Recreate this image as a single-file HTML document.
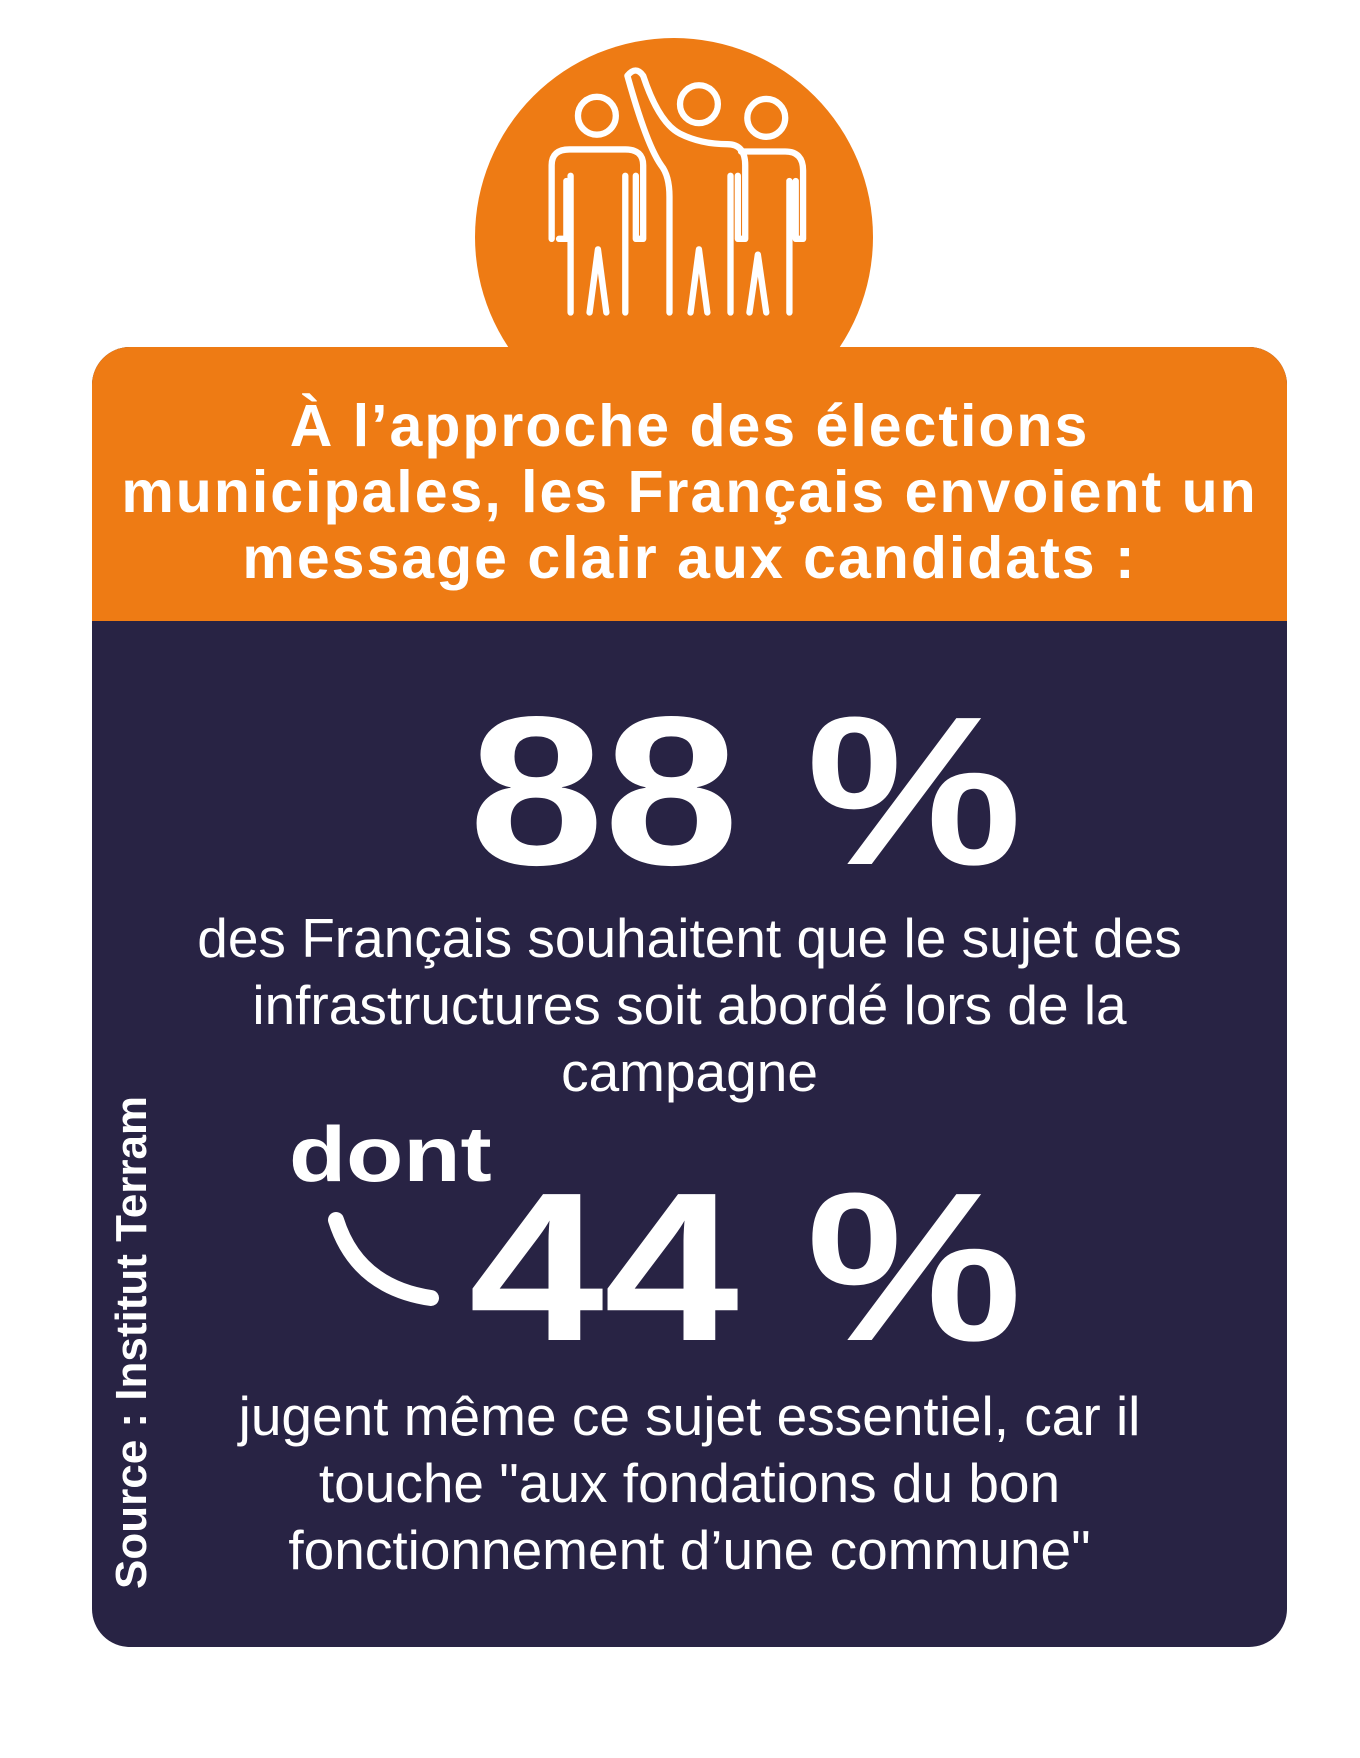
<!DOCTYPE html>
<html><head><meta charset="utf-8"><style>
body{margin:0;width:1360px;height:1758px;background:#fff;position:relative;overflow:hidden;font-family:"Liberation Sans",sans-serif}
.abs{position:absolute}
#circ{left:475px;top:38px;width:398px;height:398px;border-radius:50%;background:#ee7b14}
#card{left:92px;top:347px;width:1195px;height:1300px;border-radius:38px;background:#282344;overflow:hidden}
#head{left:0;top:0;width:1195px;height:274px;background:#ee7b14}
.t{color:#fff;text-align:center;width:1195px;left:0}
#title{top:46px;font-weight:bold;font-size:59px;line-height:66px;letter-spacing:2px}
.big{font-weight:bold;font-size:212px;line-height:1;transform:scaleX(1.145)}
.body{font-size:55px;line-height:67px}
</style></head><body>
<div id="circ" class="abs"></div>
<svg class="abs" style="left:543px;top:60px" width="274" height="263" viewBox="0 0 260 250" fill="none" stroke="#fff" stroke-width="6" stroke-linecap="round" stroke-linejoin="round">
<circle cx="51" cy="53" r="18"/><circle cx="148" cy="42" r="18"/><circle cx="212" cy="55" r="18"/>
<path d="M8 170 V100 Q8 85 25 85 H78 Q95 85 95 100 V170 H88 V110 M15 170 H22 V115 M26 240 V110 M78 240 V110 M44 240 L52 180 L60 240"/>
<path d="M80 15 Q88 5 95 15 Q110 60 130 70 Q150 80 175 80 Q192 80 192 100 V170 H185 V110 M112 100 Q120 110 120 130 V240 M178 240 V110 M140 240 L148 180 L156 240 M112 100 Q98 80 80 15"/>
<path d="M188 87 H230 Q247 87 247 105 V170 H240 V115 M234 240 V115 M196 240 L204 185 L212 240"/>
</svg>
<div id="card" class="abs">
<div id="head" class="abs"></div>
<div id="title" class="abs t">À l’approche des élections<br>municipales, les Français envoient un<br>message clair aux candidats :</div>
<div class="abs t big" style="top:338px;left:56px">88 %</div>
<div class="abs t body" style="top:558px;left:0">des Français souhaitent que le sujet des<br>infrastructures soit abordé lors de la<br>campagne</div>
<div class="abs" style="left:197px;top:768px;color:#fff;font-weight:bold;font-size:78px;line-height:1;transform:scaleX(1.2);transform-origin:0 0">dont</div>
<div class="abs t big" style="top:814px;left:56px">44 %</div>
<svg class="abs" style="left:230px;top:860px" width="130" height="110"><path d="M14 13 Q35 80 109 91" stroke="#fff" stroke-width="16" fill="none" stroke-linecap="round"/></svg>
<div class="abs t body" style="top:1036px;left:0">jugent même ce sujet essentiel, car il<br>touche "aux fondations du bon<br>fonctionnement d’une commune"</div>
<div class="abs" style="left:15px;top:1242px;transform:rotate(-90deg);transform-origin:0 0;color:#fff;font-weight:bold;font-size:44px;line-height:50px;white-space:nowrap">Source : Institut Terram</div>
</div>
</body></html>
